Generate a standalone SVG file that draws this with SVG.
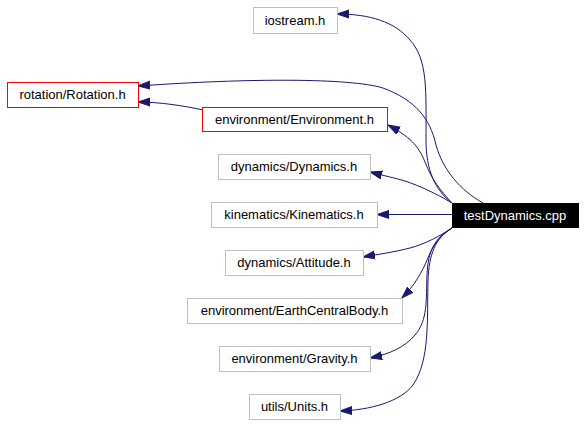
<svg xmlns="http://www.w3.org/2000/svg" width="585" height="425" viewBox="0 0 585 425">
<style>
.n rect{fill:#fff;stroke:#c0c0c0;stroke-width:1;shape-rendering:crispEdges}
.n.red rect{stroke:#ff0000}
.n.main rect{fill:#000;stroke:#000}
.n text{font-family:"Liberation Sans",Arial,sans-serif;font-size:13px;text-anchor:middle;fill:#000}
.n.main text{fill:#fff}
.e path{fill:none;stroke:#191970;stroke-width:1;marker-end:url(#ah)}
</style>
<defs>
<marker id="ah" markerUnits="userSpaceOnUse" viewBox="0 -5 13 10" markerWidth="13" markerHeight="10" refX="12" refY="0" orient="auto">
<path d="M0,-4 L12,0 L0,4 z" fill="#191970" stroke="#191970" stroke-width="1"/>
</marker>
</defs>
<rect width="585" height="425" fill="#fff"/>
<g id="edges" class="e">
<path d="M452,203 C435,190 426,170 426,140 C426,90 428,60 410,40 C395,22 370,14 337,14"/>
<path d="M483,203 C460,190 443,170 436,145 C430,118 415,100 383,88 C350,78 250,78 138,86"/>
<path d="M203,110 C185,106 160,102 138,102"/>
<path d="M452,203 C440,190 432,180 425,162 C418,145 410,137 388,125"/>
<path d="M452,203 C435,193 420,186 405,181 C395,178 385,176 370,172"/>
<path d="M452,214.5 L377,214.5"/>
<path d="M452,228 C440,236 425,244 410,248 C395,252 380,254 363,257"/>
<path d="M452,228 C440,236 433,245 428,258 C422,272 415,285 402,298"/>
<path d="M452,228 C435,238 428,250 427,275 C426,300 428,320 415,335 C405,347 390,354 370,358"/>
<path d="M452,228 C435,238 429,255 428,280 C427,320 430,360 413,385 C400,402 370,410 340,411"/>
</g>
<g id="testDynamics" class="n main"><rect x="452" y="203" width="126" height="24"/><text x="515" y="219.5">testDynamics.cpp</text></g>
<g id="iostream" class="n"><rect x="253" y="7" width="84" height="26"/><text x="295" y="24.5">iostream.h</text></g>
<g id="rotation" class="n red"><rect x="7" y="82" width="131" height="25"/><text x="72.5" y="99">rotation/Rotation.h</text></g>
<g id="environment" class="n red"><rect x="202" y="107" width="185" height="24"/><text x="294.5" y="123.5">environment/Environment.h</text></g>
<g id="dynamics" class="n"><rect x="218" y="154" width="152" height="25"/><text x="294" y="171">dynamics/Dynamics.h</text></g>
<g id="kinematics" class="n"><rect x="211" y="202" width="166" height="25"/><text x="294" y="219">kinematics/Kinematics.h</text></g>
<g id="attitude" class="n"><rect x="225" y="250" width="138" height="25"/><text x="294" y="267">dynamics/Attitude.h</text></g>
<g id="earth" class="n"><rect x="187" y="298" width="215" height="25"/><text x="294.5" y="315">environment/EarthCentralBody.h</text></g>
<g id="gravity" class="n"><rect x="219" y="346" width="151" height="25"/><text x="294.5" y="363">environment/Gravity.h</text></g>
<g id="units" class="n"><rect x="249" y="394" width="91" height="25"/><text x="294.5" y="411">utils/Units.h</text></g>
</svg>
